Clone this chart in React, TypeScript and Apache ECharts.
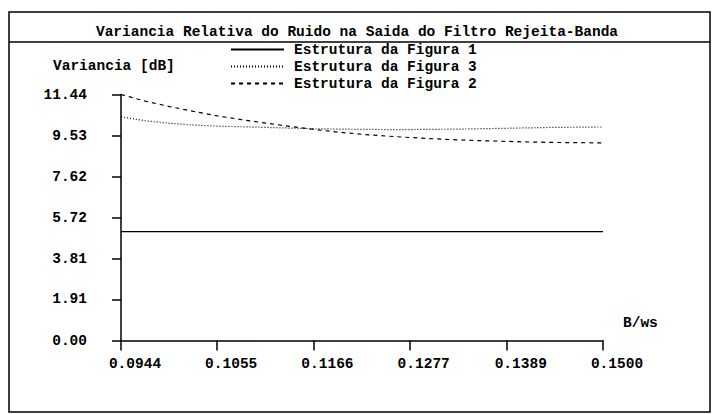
import React, { useEffect, useRef } from "react";
import * as echarts from "echarts";

const titleText = "Variancia Relativa do Ruido na Saida do Filtro Rejeita-Banda";
const yAxisTitle = "Variancia [dB]";
const xAxisTitle = "B/ws";

const seriesNames = ["Estrutura da Figura 1", "Estrutura da Figura 3", "Estrutura da Figura 2"];

const xValues = [
  0.0944, 0.0972, 0.1000, 0.1028, 0.1055, 0.1083, 0.1111, 0.1138, 0.1166, 0.1194, 0.1222,
  0.1249, 0.1277, 0.1305, 0.1333, 0.1361, 0.1389, 0.1416, 0.1444, 0.1472, 0.1500,
];

const fig1Values = [
  5.06, 5.06, 5.06, 5.06, 5.06, 5.06, 5.06, 5.06, 5.06, 5.06, 5.06,
  5.06, 5.06, 5.06, 5.06, 5.06, 5.06, 5.06, 5.06, 5.06, 5.06,
];

const fig3Values = [
  10.40, 10.22, 10.10, 10.02, 9.97, 9.94, 9.91, 9.88, 9.85, 9.83, 9.82,
  9.81, 9.81, 9.82, 9.83, 9.85, 9.87, 9.89, 9.91, 9.92, 9.93,
];

const fig2Values = [
  11.44, 11.13, 10.88, 10.65, 10.45, 10.27, 10.11, 9.96, 9.82, 9.69, 9.59,
  9.51, 9.44, 9.38, 9.33, 9.29, 9.26, 9.23, 9.21, 9.20, 9.19,
];

const xTickValues = [0.0944, 0.1055, 0.1166, 0.1277, 0.1389, 0.15];
const xTickLabels = ["0.0944", "0.1055", "0.1166", "0.1277", "0.1389", "0.1500"];
const yTickValues = [0, 1.91, 3.81, 5.72, 7.62, 9.53, 11.44];
const yTickLabels = ["0.00", "1.91", "3.81", "5.72", "7.62", "9.53", "11.44"];

const FONT = "'Liberation Mono', 'DejaVu Sans Mono', monospace";

function nearestLabel(values: number[], labels: string[], v: number): string {
  let best = 0;
  for (let i = 1; i < values.length; i++) {
    if (Math.abs(values[i] - v) < Math.abs(values[best] - v)) best = i;
  }
  return labels[best];
}

function pairs(ys: number[]): number[][] {
  return xValues.map((x, i) => [x, ys[i]]);
}

export default function App() {
  const ref = useRef<HTMLDivElement>(null);

  useEffect(() => {
    if (!ref.current) return;
    const chart = echarts.init(ref.current, undefined, { renderer: "svg" });
    const textBase = { fontFamily: FONT, fontWeight: "bold" as const, fontSize: 14.5, color: "#000" };
    chart.setOption({
      animation: false,
      backgroundColor: "#fff",
      title: {
        text: titleText,
        left: "center",
        top: 19,
        textStyle: { ...textBase, lineHeight: 16 },
      },
      legend: {
        orient: "vertical",
        left: 230,
        top: 42,
        itemWidth: 53,
        itemHeight: 14,
        itemGap: 2,
        padding: 0,
        data: [seriesNames[0], seriesNames[1], seriesNames[2]],
        itemStyle: { opacity: 0 },
        textStyle: { ...textBase, padding: [0, 0, 0, 5] },
      },
      grid: { left: 121, right: 111, top: 94.5, bottom: 73.5 },
      xAxis: {
        type: "value",
        min: 0.0944,
        max: 0.15,
        axisLine: { show: true, lineStyle: { color: "#000", width: 1.5 } },
        axisTick: {
          show: true,
          length: 10,
          customValues: xTickValues,
          lineStyle: { color: "#000", width: 1.5 },
        },
        axisLabel: {
          customValues: xTickValues,
          margin: 16,
          padding: [0, 0, 0, 28],
          ...textBase,
          formatter: (v: number) => nearestLabel(xTickValues, xTickLabels, v),
        },
        splitLine: { show: false },
      },
      yAxis: {
        type: "value",
        min: 0,
        max: 11.44,
        axisLine: { show: true, lineStyle: { color: "#000", width: 1.5 } },
        axisTick: {
          show: true,
          length: 9,
          customValues: yTickValues,
          lineStyle: { color: "#000", width: 1.5 },
        },
        axisLabel: {
          customValues: yTickValues,
          margin: 34,
          ...textBase,
          formatter: (v: number) => nearestLabel(yTickValues, yTickLabels, v),
        },
        splitLine: { show: false },
      },
      graphic: [
        {
          type: "rect",
          shape: { x: 9, y: 12, width: 701, height: 400 },
          style: { fill: "none", stroke: "#000", lineWidth: 1.5 },
          silent: true,
        },
        {
          type: "line",
          shape: { x1: 9, y1: 42, x2: 710, y2: 42 },
          style: { stroke: "#000", lineWidth: 1.5 },
          silent: true,
        },
        {
          type: "text",
          x: 53,
          y: 66,
          style: { text: yAxisTitle, font: `bold 14.5px ${FONT}`, fill: "#000", verticalAlign: "middle", align: "left" },
        },
        {
          type: "text",
          x: 623,
          y: 323,
          style: { text: xAxisTitle, font: `bold 14.5px ${FONT}`, fill: "#000", verticalAlign: "middle", align: "left" },
        },
      ],
      series: [
        {
          name: seriesNames[0],
          type: "line",
          data: pairs(fig1Values),
          symbol: "none",
          lineStyle: { color: "#000", width: 1.2, type: "solid" },
          itemStyle: { color: "#000" },
        },
        {
          name: seriesNames[1],
          type: "line",
          data: pairs(fig3Values),
          symbol: "none",
          lineStyle: { color: "#000", width: 1.2, type: [1, 2] },
          itemStyle: { color: "#000" },
        },
        {
          name: seriesNames[2],
          type: "line",
          data: pairs(fig2Values),
          symbol: "none",
          lineStyle: { color: "#000", width: 1.2, type: [4, 4] },
          itemStyle: { color: "#000" },
        },
      ],
    });
    return () => chart.dispose();
  }, []);

  return (
    <div
      ref={ref}
      style={{ position: "fixed", left: 0, top: 0, width: 714, height: 414, background: "#fff" }}
    />
  );
}
